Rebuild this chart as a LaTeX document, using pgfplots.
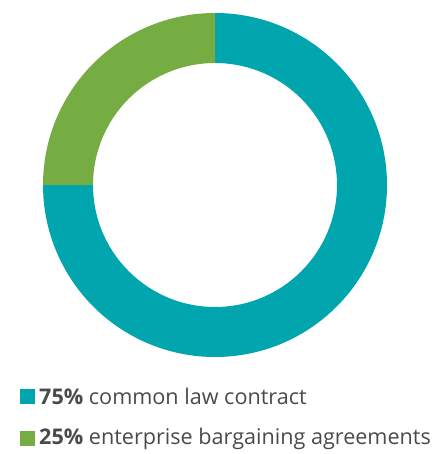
\documentclass[border=0pt]{standalone}
\usepackage{pgfplots}
\pgfplotsset{compat=1.18}
\usepackage{pgfplotstable}
\usepackage{fontspec}
\setmainfont{Open Sans}
\definecolor{cteal}{HTML}{00A5AE}
\definecolor{cgreen}{HTML}{76AD43}
\definecolor{ctext}{HTML}{4A4A4A}
\pgfplotstableread{
label value
common 75
enterprise 25
}\datatable
\begin{document}
\pgfplotstablegetelem{0}{value}\of\datatable \let\va\pgfplotsretval
\pgfplotstablegetelem{1}{value}\of\datatable \let\vb\pgfplotsretval
\begin{tikzpicture}
\path (0,0) rectangle (439pt,454pt);
\begin{axis}[
  at={(215pt,269pt)}, anchor=center,
  scale only axis, width=344pt, height=344pt,
  xmin=-1, xmax=1, ymin=-1, ymax=1,
  hide axis, clip=false]
  \pgfmathsetmacro{\da}{-3.6*\va}
  \pgfmathsetmacro{\db}{-3.6*\vb}
  \pgfmathsetmacro{\ea}{90+\da}
  \fill[cteal] (axis cs:0,0) ++(90:172pt) arc[start angle=90, delta angle=\da, radius=172pt]
     -- ++(\ea:-50pt) arc[start angle=\ea, delta angle=-\da, radius=122pt] -- cycle;
  \fill[cgreen] (axis cs:0,0) ++(\ea:172pt) arc[start angle=\ea, delta angle=\db, radius=172pt]
     -- ++(90:-50pt) arc[start angle=90, delta angle=-\db, radius=122pt] -- cycle;
\end{axis}
\fill[cteal] (20pt,50pt) rectangle (35pt,65pt);
\node[anchor=west, inner sep=0pt, text=ctext, font=\fontsize{21.6}{26}\selectfont] at (39pt,57.5pt) {\textbf{75\%} common law contract};
\fill[cgreen] (20pt,7.5pt) rectangle (35pt,22.5pt);
\node[anchor=west, inner sep=0pt, text=ctext, font=\fontsize{21.6}{26}\selectfont] at (39pt,15pt) {\textbf{25\%} enterprise bargaining agreements};
\end{tikzpicture}
\end{document}
